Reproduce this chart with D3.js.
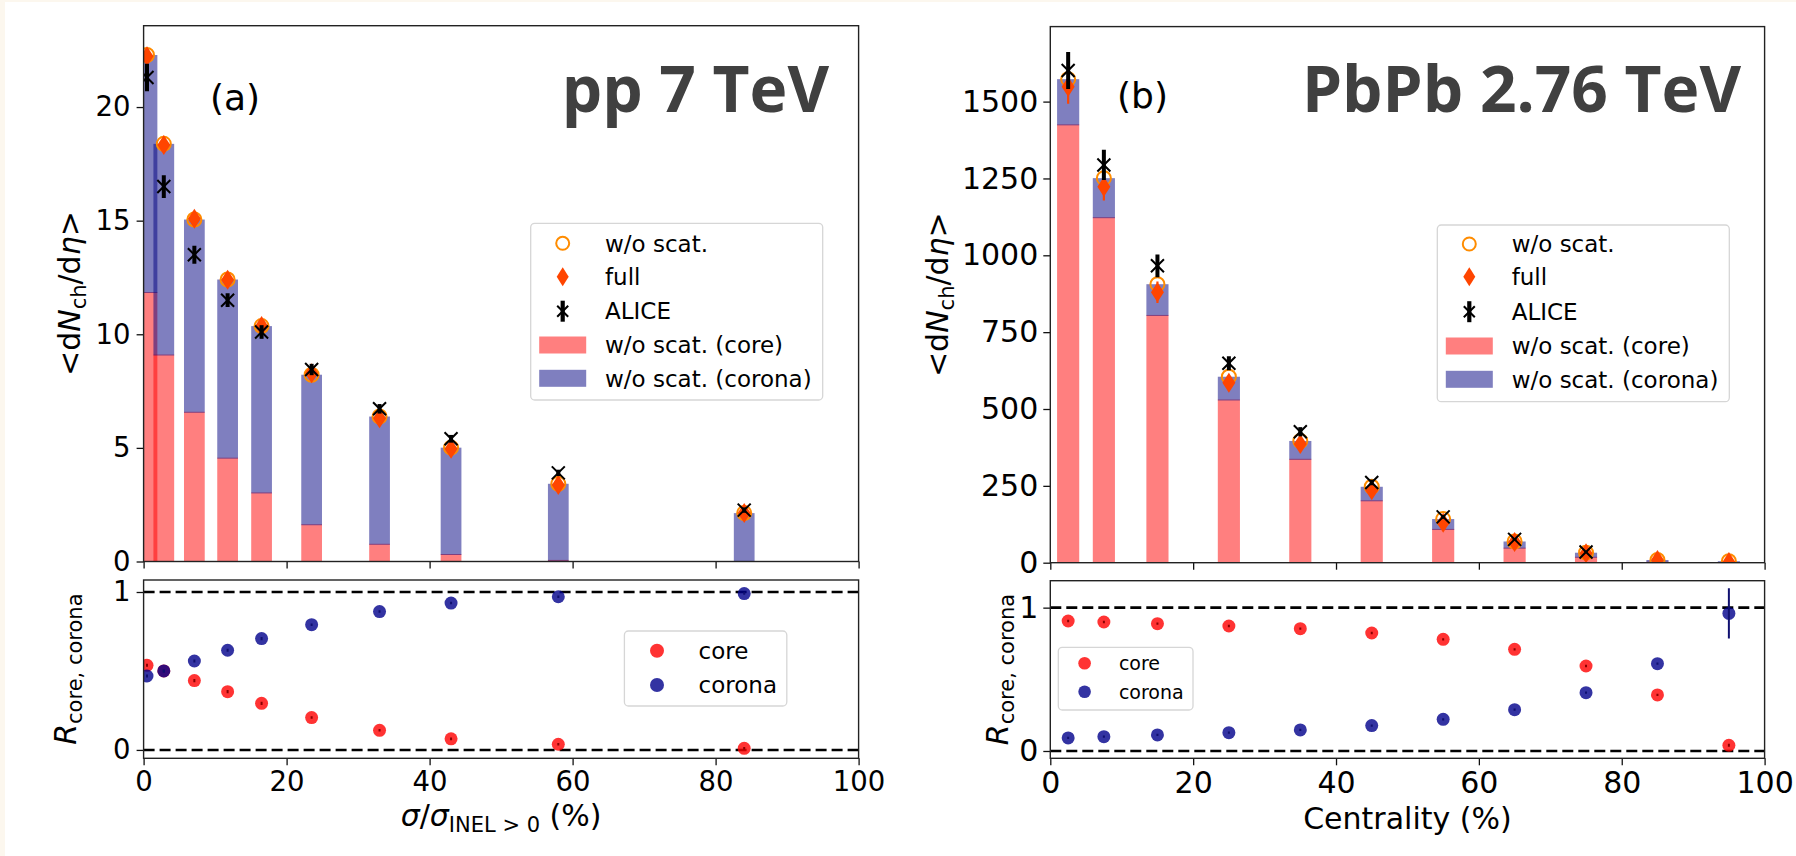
<!DOCTYPE html>
<html>
<head>
<meta charset="utf-8">
<script src="https://cdn.jsdelivr.net/npm/d3@7"></script>
<style>
  html, body { margin: 0; padding: 0; background: #fcf7ee; }
  svg { display: block; }
  text { font-family: "DejaVu Sans", sans-serif; fill: #000; }
  text.sys { font-family: "Open Sans", sans-serif; font-weight: 700; fill: #404040; }
</style>
</head>
<body>
<svg id="fig" width="1796" height="856"></svg>
<script>
// ---------- pp 7 TeV (multiplicity classes) ----------
const ppClass      = [0.475, 2.825, 7.1, 11.75, 16.5, 23.5, 33, 43, 58, 84];
const ppCore       = [11.86, 9.11, 6.59, 4.57, 3.04, 1.64, 0.78, 0.33, 0.07, 0.02];
const ppCorona     = [10.43, 9.27, 8.46, 7.84, 7.32, 6.58, 5.60, 4.68, 3.35, 2.11];
const ppNoScat     = [22.29, 18.38, 15.05, 12.41, 10.36, 8.22, 6.38, 5.01, 3.42, 2.13];
const ppFull       = [22.24, 18.33, 15.08, 12.40, 10.36, 8.28, 6.30, 4.96, 3.37, 2.13];
const ppFullErr    = [0.15, 0.12, 0.10, 0.09, 0.08, 0.07, 0.06, 0.05, 0.04, 0.03];
const ppAlice      = [21.3, 16.5, 13.5, 11.5, 10.1, 8.45, 6.72, 5.40, 3.90, 2.26];
const ppAliceErr   = [0.6, 0.5, 0.4, 0.3, 0.3, 0.25, 0.21, 0.17, 0.14, 0.12];
const ppRcore      = [0.536, 0.500, 0.439, 0.369, 0.295, 0.205, 0.124, 0.070, 0.036, 0.010];
const ppRcorona    = [0.468, 0.500, 0.563, 0.631, 0.705, 0.793, 0.876, 0.930, 0.970, 0.990];
const ppRcoreErr   = [0.010, 0.010, 0.010, 0.010, 0.010, 0.008, 0.008, 0.008, 0.008, 0.008];
const ppRcoronaErr = [0.010, 0.010, 0.010, 0.010, 0.010, 0.008, 0.008, 0.008, 0.008, 0.008];

// ---------- PbPb 2.76 TeV (centrality classes) ----------
const pbClass      = [2.5, 7.5, 15, 25, 35, 45, 55, 65, 75, 85, 95];
const pbCore       = [1426, 1124, 806, 531, 338, 203, 110, 49, 19.3, 3.4, 0.2];
const pbCorona     = [147, 127, 100, 74, 58, 44, 32, 20, 13.2, 5.4, 4.8];
const pbNoScat     = [1573, 1251, 906, 605, 396, 247, 142, 69, 32.5, 8.8, 5.0];
const pbFull       = [1548, 1223, 880, 585, 386, 236, 130, 67, 31, 9, 2];
const pbFullErr    = [55, 45, 35, 25, 18, 12, 8, 5, 3, 2, 1];
const pbAliceClass = [2.5, 7.5, 15, 25, 35, 45, 55, 65, 75];
const pbAlice      = [1601, 1294, 966, 649, 426, 261, 149, 76, 35];
const pbAliceErr   = [60, 49, 37, 23, 15, 9, 6, 4, 2];
const pbRcore      = [0.907, 0.900, 0.888, 0.872, 0.853, 0.823, 0.779, 0.709, 0.593, 0.391, 0.040];
const pbRcorona    = [0.091, 0.100, 0.112, 0.128, 0.147, 0.177, 0.221, 0.288, 0.407, 0.609, 0.960];
const pbRcoreErr   = [0.008, 0.008, 0.008, 0.008, 0.008, 0.008, 0.008, 0.008, 0.008, 0.008, 0.010];
const pbRcoronaErr = [0.008, 0.008, 0.008, 0.008, 0.008, 0.008, 0.008, 0.008, 0.008, 0.008, 0.175];

// ---------- ticks ----------
const xTickVals   = [0, 20, 40, 60, 80, 100];
const ppYTickVals = [0, 5, 10, 15, 20];
const pbYTickVals = [0, 250, 500, 750, 1000, 1250, 1500];
const rTickVals   = [0, 1];

// ---------- colours ----------
const C = {
  core: "red", corona: "navy", full: "#ff4500", noScat: "#ff8c00",
  rCore: "red", rCorona: "#00008b", rCoreErr: "#8b0000", rCoronaErr: "#101070"
};

const svg = d3.select("#fig");
svg.append("rect").attr("x", 5).attr("y", 2).attr("width", 1791).attr("height", 854).attr("fill", "#fff");
const defs = svg.append("defs");

function richText(sel, parts, fs) {
  let down = false;
  parts.forEach(pt => {
    const ts = sel.append("tspan").text(pt.t);
    if (pt.i) ts.attr("font-style", "italic");
    if (pt.sub) {
      ts.attr("font-size", fs * 0.7);
      if (!down) { ts.attr("dy", fs * 0.2); down = true; }
    } else if (down) { ts.attr("dy", -fs * 0.2); down = false; }
  });
}

function yLabel(parts, bx, cy, fs) {
  const t = svg.append("text")
    .attr("transform", `translate(${bx},${cy}) rotate(-90)`)
    .attr("text-anchor", "middle").attr("font-size", fs);
  richText(t, parts, fs);
}

function styleAxis(g, fs) {
  g.select(".domain").remove();
  g.selectAll(".tick line").attr("stroke", "#111").attr("stroke-width", 1.3);
  g.selectAll(".tick text").attr("font-size", fs).attr("font-family", "DejaVu Sans").attr("fill", "#000");
}

function frame(x0, y0, x1, y1) {
  svg.append("rect").attr("x", x0).attr("y", y0).attr("width", x1 - x0).attr("height", y1 - y0)
    .attr("fill", "none").attr("stroke", "#222").attr("stroke-width", 1.4);
}

function diamondPath(w, h) {
  return `M0,${-h / 2}L${w / 2},0L0,${h / 2}L${-w / 2},0Z`;
}

function legendBox(x0, y0, x1, y1) {
  svg.append("rect").attr("x", x0).attr("y", y0).attr("width", x1 - x0).attr("height", y1 - y0)
    .attr("rx", 4).attr("fill", "#fff").attr("fill-opacity", 0.85)
    .attr("stroke", "#d6d6d6").attr("stroke-width", 1.3);
}

// ---------- upper panel: stacked core/corona bars with model and data points ----------
function drawTop(p) {
  const x = d3.scaleLinear().domain([0, 100]).range([p.x0, p.x1]);
  const y = d3.scaleLinear().domain(p.yDom).range([p.yBot, p.yTop]);
  const clip = p.id + "-clip";
  defs.append("clipPath").attr("id", clip).append("rect")
    .attr("x", p.x0).attr("y", p.yTop).attr("width", p.x1 - p.x0).attr("height", p.yBot - p.yTop);
  const plot = svg.append("g").attr("clip-path", `url(#${clip})`);

  const idx = d3.range(p.cls.length);
  const bx = i => x(p.cls[i] - p.bw / 2);
  const bwPx = i => x(p.cls[i] + p.bw / 2) - x(p.cls[i] - p.bw / 2);

  plot.selectAll(null).data(idx).join("rect")
    .attr("x", bx).attr("width", bwPx)
    .attr("y", i => y(p.core[i])).attr("height", i => y(0) - y(p.core[i]))
    .attr("fill", C.core).attr("fill-opacity", 0.5);
  plot.selectAll(null).data(idx).join("rect")
    .attr("x", bx).attr("width", bwPx)
    .attr("y", i => y(p.core[i] + p.corona[i]))
    .attr("height", i => y(p.core[i]) - y(p.core[i] + p.corona[i]) + 1)
    .attr("fill", C.corona).attr("fill-opacity", 0.5);

  // w/o scat. (open circles)
  plot.selectAll(null).data(idx).join("circle")
    .attr("cx", i => x(p.cls[i])).attr("cy", i => y(p.noScat[i])).attr("r", 7)
    .attr("fill", "none").attr("stroke", C.noScat).attr("stroke-width", 2);

  // full (diamonds with error bars)
  plot.selectAll(null).data(idx).join("line")
    .attr("x1", i => x(p.cls[i])).attr("x2", i => x(p.cls[i]))
    .attr("y1", i => y(p.full[i] - p.fullErr[i])).attr("y2", i => y(p.full[i] + p.fullErr[i]))
    .attr("stroke", C.full).attr("stroke-width", 2.2);
  plot.selectAll(null).data(idx).join("path")
    .attr("transform", i => `translate(${x(p.cls[i])},${y(p.full[i])})`)
    .attr("d", diamondPath(13, 20)).attr("fill", C.full);

  // ALICE (x markers with thick error bars)
  const ai = d3.range(p.aliceCls.length);
  plot.selectAll(null).data(ai).join("line")
    .attr("x1", i => x(p.aliceCls[i])).attr("x2", i => x(p.aliceCls[i]))
    .attr("y1", i => y(p.alice[i] - p.aliceErr[i])).attr("y2", i => y(p.alice[i] + p.aliceErr[i]))
    .attr("stroke", "#000").attr("stroke-width", 4);
  plot.selectAll(null).data(ai).join("path")
    .attr("transform", i => `translate(${x(p.aliceCls[i])},${y(p.alice[i])})`)
    .attr("d", "M-6.5,-6.5L6.5,6.5M-6.5,6.5L6.5,-6.5")
    .attr("stroke", "#000").attr("stroke-width", 2).attr("fill", "none");

  // axes
  const ga = svg.append("g").attr("transform", `translate(${p.x0},0)`)
    .call(d3.axisLeft(y).tickValues(p.yTicks).tickSize(7).tickPadding(p.tickPad).tickFormat(d3.format("d")));
  styleAxis(ga, p.tickFs);
  const gb = svg.append("g").attr("transform", `translate(0,${p.yBot})`)
    .call(d3.axisBottom(x).tickValues(xTickVals).tickSize(7).tickFormat(""));
  styleAxis(gb, p.tickFs);
  frame(p.x0, p.yTop, p.x1, p.yBot);

  // panel letter and system label
  svg.append("text").attr("x", p.letterX).attr("y", p.letterY).attr("font-size", 36).text(p.letter);
  svg.append("text").attr("class", "sys").attr("x", p.titleX).attr("y", p.titleY).attr("text-anchor", "end")
    .attr("font-size", 64).text(p.title);

  yLabel([{ t: "<d" }, { t: "N", i: 1 }, { t: "ch", sub: 1 }, { t: "/d" }, { t: "η", i: 1 }, { t: ">" }],
    p.ylabX, (p.yTop + p.yBot) / 2, 30);

  // legend
  const L = p.leg;
  legendBox(L.x0, L.y0, L.x1, L.y1);
  const hx = L.hx, fs = 23;
  svg.append("circle").attr("cx", hx).attr("cy", L.rows[0]).attr("r", 6.5)
    .attr("fill", "none").attr("stroke", C.noScat).attr("stroke-width", 2);
  svg.append("path").attr("transform", `translate(${hx},${L.rows[1]})`).attr("d", diamondPath(12, 19)).attr("fill", C.full);
  svg.append("line").attr("x1", hx).attr("x2", hx).attr("y1", L.rows[2] - 10.5).attr("y2", L.rows[2] + 10.5)
    .attr("stroke", "#000").attr("stroke-width", 4.2);
  svg.append("path").attr("transform", `translate(${hx},${L.rows[2]})`)
    .attr("d", "M-5.5,-5.5L5.5,5.5M-5.5,5.5L5.5,-5.5").attr("stroke", "#000").attr("stroke-width", 2).attr("fill", "none");
  svg.append("rect").attr("x", hx - 23.5).attr("y", L.rows[3] - 8.5).attr("width", 47).attr("height", 17)
    .attr("fill", C.core).attr("fill-opacity", 0.5);
  svg.append("rect").attr("x", hx - 23.5).attr("y", L.rows[4] - 8.5).attr("width", 47).attr("height", 17)
    .attr("fill", C.corona).attr("fill-opacity", 0.5);
  const labels = ["w/o scat.", "full", "ALICE", "w/o scat. (core)", "w/o scat. (corona)"];
  labels.forEach((s, k) => svg.append("text").attr("x", L.tx).attr("y", L.rows[k]).attr("dy", "0.36em")
    .attr("font-size", fs).text(s));
}

// ---------- lower panel: core / corona fractions ----------
function drawBottom(p) {
  const x = d3.scaleLinear().domain([0, 100]).range([p.x0, p.x1]);
  const y = d3.scaleLinear().domain(p.yDom).range([p.yBot, p.yTop]);
  const clip = p.id + "-clip";
  defs.append("clipPath").attr("id", clip).append("rect")
    .attr("x", p.x0).attr("y", p.yTop).attr("width", p.x1 - p.x0).attr("height", p.yBot - p.yTop);
  const plot = svg.append("g").attr("clip-path", `url(#${clip})`);

  [0, 1].forEach(v => plot.append("line").attr("x1", p.x0).attr("x2", p.x1).attr("y1", y(v)).attr("y2", y(v))
    .attr("stroke", "#000").attr("stroke-width", 2.6).attr("stroke-dasharray", "11,5"));

  const idx = d3.range(p.cls.length);
  const series = [
    { v: p.rCore, e: p.rCoreErr, fill: C.rCore, ec: C.rCoreErr },
    { v: p.rCorona, e: p.rCoronaErr, fill: C.rCorona, ec: C.rCoronaErr }
  ];
  series.forEach(s => {
    plot.selectAll(null).data(idx).join("circle")
      .attr("cx", i => x(p.cls[i])).attr("cy", i => y(s.v[i])).attr("r", 6.5)
      .attr("fill", s.fill).attr("fill-opacity", 0.8);
    plot.selectAll(null).data(idx).join("line")
      .attr("x1", i => x(p.cls[i])).attr("x2", i => x(p.cls[i]))
      .attr("y1", i => y(s.v[i] - s.e[i])).attr("y2", i => y(s.v[i] + s.e[i]))
      .attr("stroke", s.ec).attr("stroke-width", 2);
  });

  const ga = svg.append("g").attr("transform", `translate(${p.x0},0)`)
    .call(d3.axisLeft(y).tickValues(rTickVals).tickSize(7).tickPadding(p.tickPad).tickFormat(d3.format("d")));
  styleAxis(ga, p.tickFs);
  const gb = svg.append("g").attr("transform", `translate(0,${p.yBot})`)
    .call(d3.axisBottom(x).tickValues(xTickVals).tickSize(7).tickPadding(6).tickFormat(d3.format("d")));
  styleAxis(gb, p.tickFs);
  frame(p.x0, p.yTop, p.x1, p.yBot);

  yLabel([{ t: "R", i: 1 }, { t: "core, corona", sub: 1 }], p.ylabX, (p.yTop + p.yBot) / 2, 30);

  const xl = svg.append("text").attr("x", (p.x0 + p.x1) / 2).attr("y", p.xlabY)
    .attr("text-anchor", "middle").attr("font-size", 30);
  richText(xl, p.xlab, 30);

  const L = p.leg;
  legendBox(L.x0, L.y0, L.x1, L.y1);
  svg.append("circle").attr("cx", L.hx).attr("cy", L.rows[0]).attr("r", L.r).attr("fill", C.rCore).attr("fill-opacity", 0.8);
  svg.append("circle").attr("cx", L.hx).attr("cy", L.rows[1]).attr("r", L.r).attr("fill", C.rCorona).attr("fill-opacity", 0.8);
  ["core", "corona"].forEach((s, k) => svg.append("text").attr("x", L.tx).attr("y", L.rows[k]).attr("dy", "0.36em")
    .attr("font-size", L.fs).text(s));
}

// ---------- (a) pp 7 TeV ----------
drawTop({
  id: "ppTop", x0: 143.6, x1: 858.6, yTop: 25.7, yBot: 561.5, yDom: [0, 23.58], yTicks: ppYTickVals,
  tickFs: 27.5, tickPad: 6, cls: ppClass, bw: 2.9, core: ppCore, corona: ppCorona, noScat: ppNoScat,
  full: ppFull, fullErr: ppFullErr, aliceCls: ppClass, alice: ppAlice, aliceErr: ppAliceErr,
  letter: "(a)", letterX: 210, letterY: 110, title: "pp 7 TeV", titleX: 829, titleY: 111.5, ylabX: 79.5,
  leg: { x0: 530.7, y0: 223.3, x1: 822.7, y1: 400, hx: 562.7, tx: 605, rows: [243.3, 276.7, 311.2, 345, 378.3] }
});
drawBottom({
  id: "ppBot", x0: 143.6, x1: 858.6, yTop: 580, yBot: 758.3, yDom: [-0.053, 1.076],
  tickFs: 27.5, tickPad: 6, cls: ppClass, rCore: ppRcore, rCorona: ppRcorona,
  rCoreErr: ppRcoreErr, rCoronaErr: ppRcoronaErr, ylabX: 76, xlabY: 826,
  xlab: [{ t: "σ", i: 1 }, { t: "/" }, { t: "σ", i: 1 }, { t: "INEL > 0", sub: 1 }, { t: " (%)" }],
  leg: { x0: 624.4, y0: 631, x1: 786.8, y1: 706, hx: 657, tx: 698.6, rows: [650.7, 685], r: 7, fs: 23 }
});

// ---------- (b) PbPb 2.76 TeV ----------
drawTop({
  id: "pbTop", x0: 1050.3, x1: 1764.6, yTop: 26.6, yBot: 562.7, yDom: [0, 1744], yTicks: pbYTickVals,
  tickFs: 30, tickPad: 5, cls: pbClass, bw: 3.1, core: pbCore, corona: pbCorona, noScat: pbNoScat,
  full: pbFull, fullErr: pbFullErr, aliceCls: pbAliceClass, alice: pbAlice, aliceErr: pbAliceErr,
  letter: "(b)", letterX: 1117, letterY: 108, title: "PbPb 2.76 TeV", titleX: 1741, titleY: 111.5, ylabX: 948.4,
  leg: { x0: 1437.3, y0: 225, x1: 1729.3, y1: 401.7, hx: 1469.3, tx: 1511.7, rows: [244, 276.7, 311.7, 346, 379.3] }
});
drawBottom({
  id: "pbBot", x0: 1050.3, x1: 1764.6, yTop: 580.7, yBot: 758.3, yDom: [-0.051, 1.188],
  tickFs: 30, tickPad: 5, cls: pbClass, rCore: pbRcore, rCorona: pbRcorona,
  rCoreErr: pbRcoreErr, rCoronaErr: pbRcoronaErr, ylabX: 1008, xlabY: 829,
  xlab: [{ t: "Centrality (%)" }],
  leg: { x0: 1058.3, y0: 647.3, x1: 1193, y1: 710, hx: 1084.6, tx: 1118.9, rows: [663.3, 691.7], r: 6.3, fs: 19 }
});
</script>
</body>
</html>
